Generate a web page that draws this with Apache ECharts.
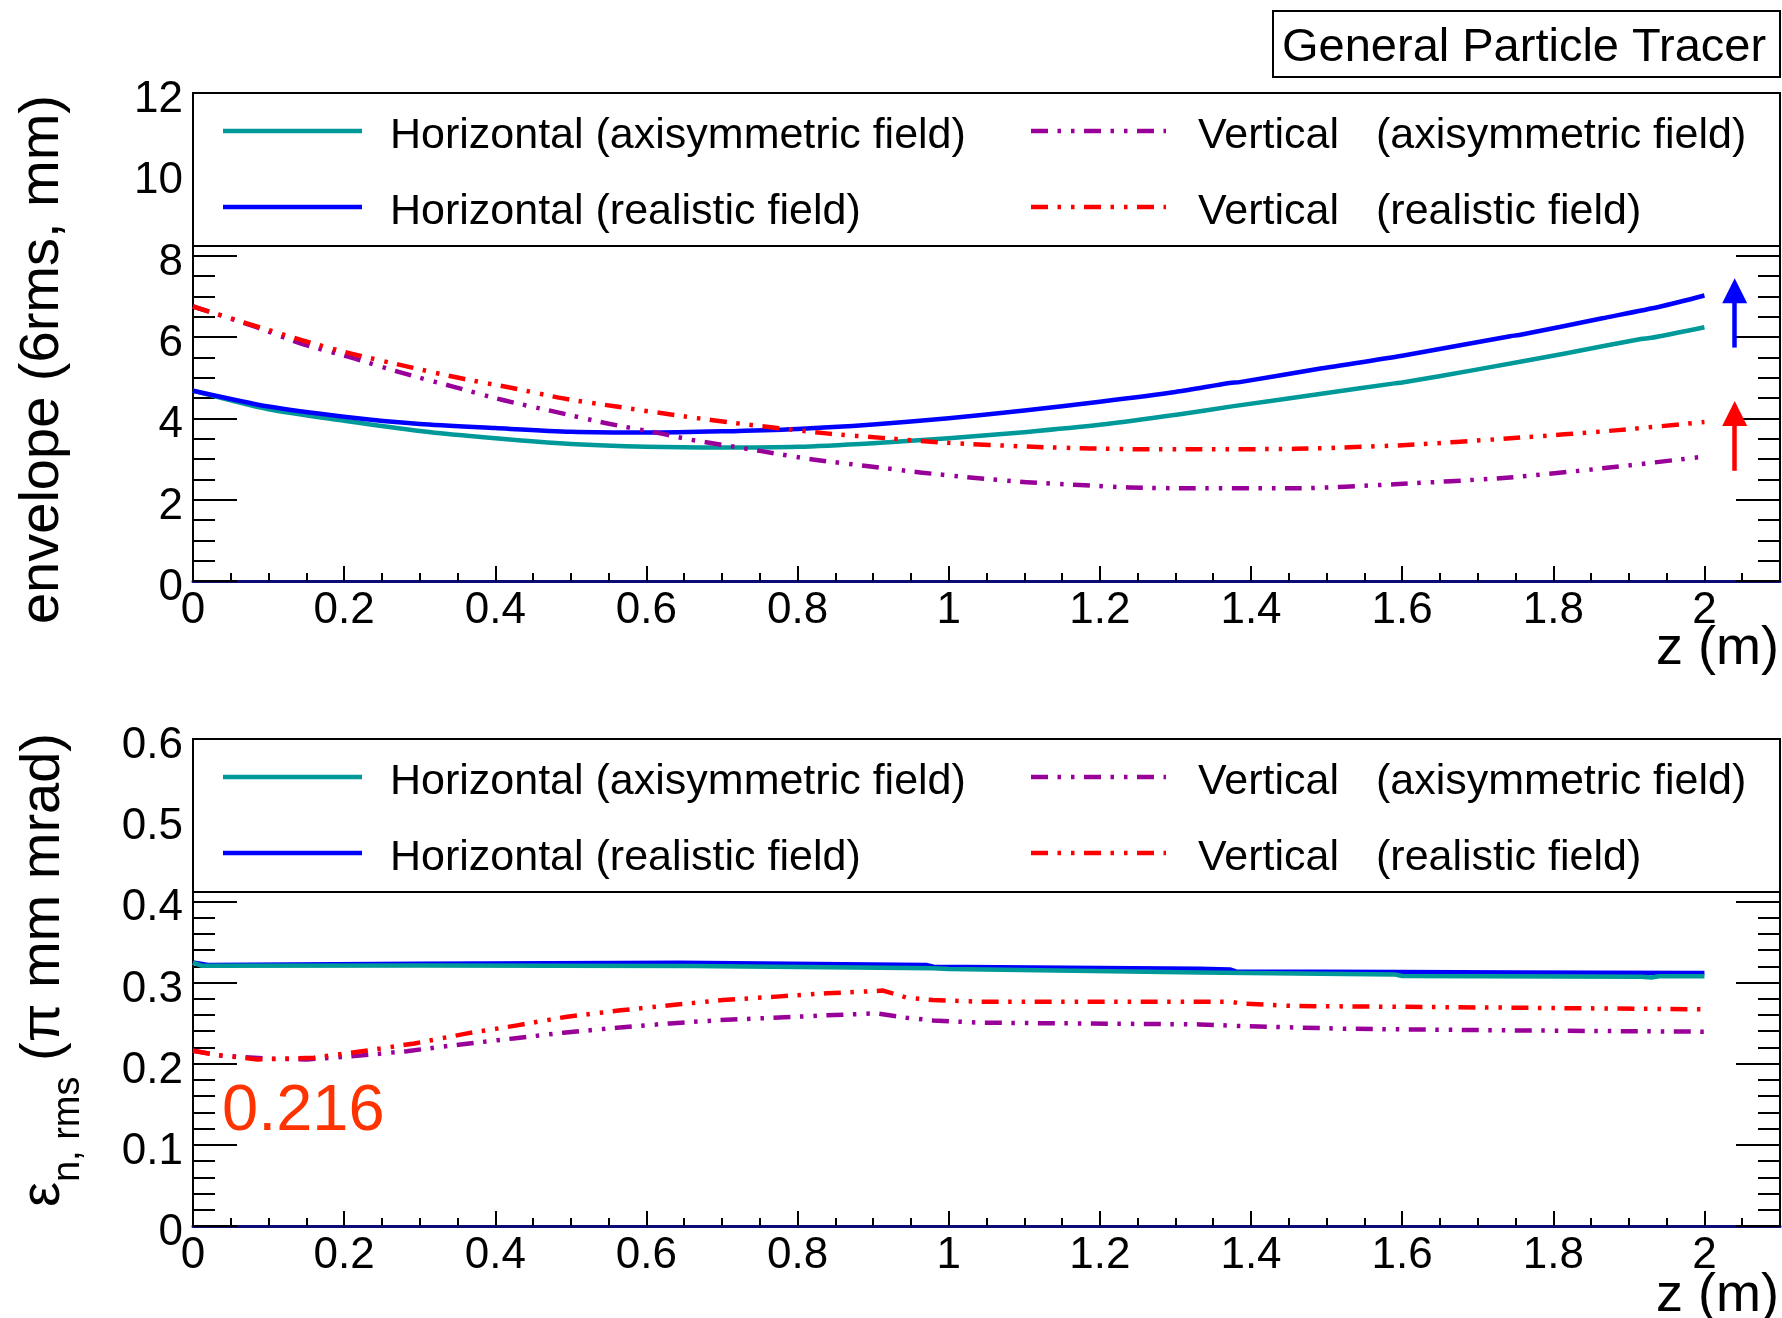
<!DOCTYPE html>
<html>
<head>
<meta charset="utf-8">
<script src="https://cdn.jsdelivr.net/npm/echarts@6/dist/echarts.min.js"></script>
<style>
  html, body { margin: 0; padding: 0; background: #ffffff; }
  #chart { width: 1782px; height: 1318px; }
</style>
</head>
<body>
<div id="chart"></div>
<script>
// ---- Beam envelope (6 rms, mm) along z (m) ----
const envHorizAxi = [
  [0, 4.68], [0.1, 4.22], [0.2, 3.94], [0.3, 3.69], [0.4, 3.51], [0.5, 3.37],
  [0.6, 3.30], [0.7, 3.28], [0.8, 3.30], [0.9, 3.39], [1.0, 3.51], [1.1, 3.66],
  [1.2, 3.84], [1.306, 4.10], [1.377, 4.30], [1.484, 4.58], [1.59, 4.86],
  [1.6, 4.88], [1.702, 5.21], [1.814, 5.59], [1.916, 5.95], [1.93, 5.98], [2.0, 6.24]
];
const envHorizReal = [
  [0, 4.68], [0.1, 4.29], [0.2, 4.04], [0.3, 3.86], [0.4, 3.76], [0.5, 3.67],
  [0.6, 3.65], [0.7, 3.68], [0.8, 3.74], [0.9, 3.85], [1.0, 4.00], [1.1, 4.19],
  [1.2, 4.41], [1.3, 4.65], [1.372, 4.87], [1.385, 4.89], [1.494, 5.23],
  [1.6, 5.54], [1.743, 6.02], [1.755, 6.05], [1.865, 6.46], [1.942, 6.75], [2.0, 7.02]
];
const envVertAxi = [
  [0, 6.75], [0.084, 6.24], [0.146, 5.82], [0.212, 5.48], [0.278, 5.11], [0.344, 4.78],
  [0.41, 4.45], [0.477, 4.17], [0.547, 3.88], [0.618, 3.63], [0.657, 3.48], [0.75, 3.20],
  [0.82, 2.99], [0.891, 2.83], [0.962, 2.67], [1.032, 2.54], [1.103, 2.43], [1.173, 2.36],
  [1.239, 2.30], [1.323, 2.28], [1.458, 2.28], [1.59, 2.38], [1.738, 2.54], [1.865, 2.77], [2.0, 3.06]
];
const envVertReal = [
  [0, 6.75], [0.146, 5.91], [0.212, 5.58], [0.287, 5.26], [0.353, 4.99], [0.424, 4.74],
  [0.49, 4.49], [0.56, 4.29], [0.653, 4.04], [0.728, 3.86], [0.838, 3.63], [0.918, 3.51],
  [0.997, 3.40], [1.111, 3.30], [1.187, 3.26], [1.261, 3.24], [1.328, 3.24], [1.458, 3.25],
  [1.6, 3.34], [1.743, 3.51], [1.886, 3.71], [2.0, 3.91]
];
// growth markers at the exit: [z, from, to]
const arrowHoriz = [2.04, 5.74, 7.14];
const arrowVert = [2.04, 2.71, 4.12];

// ---- Normalised rms emittance (pi mm mrad) along z (m) ----
const initialEmittance = 0.216;
const emitHorizAxi = [
  [0, 0.3246], [0.012, 0.3205], [0.3, 0.3208], [0.66, 0.3202], [0.979, 0.3175],
  [1.0, 0.3165], [1.332, 0.3122], [1.59, 0.3100], [1.6, 0.3080], [1.916, 0.3070],
  [1.93, 0.3062], [1.94, 0.3078], [2.0, 0.3078]
];
const emitHorizReal = [
  [0, 0.3246], [0.02, 0.3215], [0.3, 0.3230], [0.644, 0.3244], [0.97, 0.3215],
  [0.98, 0.3195], [1.332, 0.3168], [1.372, 0.3160], [1.38, 0.3136], [1.6, 0.3128],
  [1.75, 0.3124], [2.0, 0.3117]
];
const emitVertAxi = [
  [0, initialEmittance], [0.036, 0.2101], [0.094, 0.2064], [0.151, 0.2052], [0.213, 0.2093],
  [0.283, 0.2154], [0.354, 0.2237], [0.424, 0.2311], [0.49, 0.2381], [0.561, 0.2443],
  [0.631, 0.2496], [0.697, 0.2537], [0.768, 0.2566], [0.838, 0.2595], [0.904, 0.2620],
  [0.944, 0.2566], [0.979, 0.2533], [1.041, 0.2505], [1.332, 0.2484], [1.387, 0.2463],
  [1.524, 0.2430], [1.743, 0.2410], [2.0, 0.2394]
];
const emitVertReal = [
  [0, initialEmittance], [0.027, 0.2113], [0.085, 0.2052], [0.16, 0.2073], [0.231, 0.2163],
  [0.293, 0.2249], [0.363, 0.2373], [0.429, 0.2472], [0.495, 0.2579], [0.566, 0.2657],
  [0.631, 0.2719], [0.701, 0.2784], [0.772, 0.2826], [0.838, 0.2867], [0.904, 0.2895],
  [0.913, 0.2900], [0.944, 0.2814], [0.979, 0.2784], [1.041, 0.2764], [1.372, 0.2764],
  [1.387, 0.2740], [1.458, 0.2710], [1.743, 0.2690], [2.0, 0.2669]
];

// ---- Text ----
const planeNames = ['Horizontal', 'Horizontal', 'Vertical', 'Vertical'];
const fieldNames = ['(axisymmetric field)', '(realistic field)', '(axisymmetric field)', '(realistic field)'];
const envTitle = 'envelope (6rms, mm)';
const xTitle = 'z (m)';
const programName = 'General Particle Tracer';

// ---- Styling ----
const FONT = "'Liberation Sans', Arial, Helvetica, sans-serif";
const colors = ['#009999', '#0000ff', '#990099', '#ff0000'];
const dashDotDot = [17, 9.5, 3.5, 10, 3.5, 9.5];
const lineTypes = ['solid', 'solid', dashDotDot, dashDotDot];
const LW = 4.5;

const panels = [
  { top: 93, height: 488, yMax: 12, yInterval: 2, yMinor: 4, smooth: 0.25 },
  { top: 739, height: 487, yMax: 0.6, yInterval: 0.1, yMinor: 5, smooth: false }
];
const gridLeft = 193, gridWidth = 1587;

const xAxes = [], yAxes = [], grids = [];
panels.forEach((p, i) => {
  grids.push({ left: gridLeft, top: p.top, width: gridWidth, height: p.height,
    show: true, borderColor: '#000', borderWidth: 2, backgroundColor: 'transparent',
    containLabel: false, outerBoundsMode: 'none' });
  xAxes.push({
    gridIndex: i, type: 'value', position: 'bottom', min: 0, max: 2.1, interval: 0.2,
    axisLine: { show: true, onZero: false, lineStyle: { color: '#0c0c78', width: 3 } },
    axisTick: { show: true, inside: true, length: 15, lineStyle: { color: '#000', width: 2 } },
    minorTick: { show: false },
    axisLabel: { show: true, fontSize: 44, fontFamily: FONT, color: '#000', margin: 8,
      showMaxLabel: false, showMinLabel: true },
    splitLine: { show: false }
  });
  xAxes.push({
    gridIndex: i, type: 'value', position: 'bottom', min: 0, max: 2.1, interval: 0.05,
    axisLine: { show: false },
    axisTick: { show: true, inside: true, length: 8, lineStyle: { color: '#000', width: 2 } },
    axisLabel: { show: false }, splitLine: { show: false }
  });
  const yCommon = {
    gridIndex: i, type: 'value', min: 0, max: p.yMax, interval: p.yInterval,
    axisLine: { show: true, onZero: false, lineStyle: { color: '#000', width: 2 } },
    axisTick: { show: true, inside: true, length: 44, lineStyle: { color: '#000', width: 2 } },
    minorTick: { show: true, splitNumber: p.yMinor, length: 22, lineStyle: { color: '#000', width: 2 } },
    splitLine: { show: false }, minorSplitLine: { show: false }
  };
  yAxes.push(Object.assign({}, yCommon, { position: 'left',
    axisLabel: { show: true, fontSize: 44, fontFamily: FONT, color: '#000', margin: 10,
      verticalAlign: 'top', lineHeight: 14, showMinLabel: true, showMaxLabel: true } }));
  yAxes.push(Object.assign({}, yCommon, { position: 'right', axisLabel: { show: false } }));
});

function lineSeries(name, data, k, panel, extra) {
  return Object.assign({
    name: name, type: 'line', data: data,
    xAxisIndex: panel * 2, yAxisIndex: panel * 2,
    showSymbol: false, symbol: 'none', smooth: panels[panel].smooth, silent: true, animation: false,
    lineStyle: { color: colors[k], width: LW, type: lineTypes[k], cap: 'butt', join: 'round' },
    itemStyle: { color: colors[k] },
    emphasis: { disabled: true }, z: 2 + k
  }, extra || {});
}

function arrowMark(a, color) {
  return {
    markLine: {
      silent: true, animation: false,
      symbol: ['none', 'triangle'], symbolSize: 25,
      label: { show: false },
      lineStyle: { color: color, width: LW, type: 'solid' },
      itemStyle: { color: color },
      data: [[{ coord: [a[0], a[1]] }, { coord: [a[0], a[2]] }]]
    }
  };
}

const names = planeNames.map((p, k) => p + ' ' + fieldNames[k]);
const series = [
  lineSeries(names[0], envHorizAxi, 0, 0),
  lineSeries(names[1], envHorizReal, 1, 0, arrowMark(arrowHoriz, colors[1])),
  lineSeries(names[3], envVertReal, 3, 0, arrowMark(arrowVert, colors[3])),
  lineSeries(names[2], envVertAxi, 2, 0),
  lineSeries(names[0], emitHorizAxi, 0, 1),
  lineSeries(names[1], emitHorizReal, 1, 1),
  lineSeries(names[3], emitVertReal, 3, 1),
  lineSeries(names[2], emitVertAxi, 2, 1)
];
// keep axisymmetric drawn above realistic where the emittance curves overlap
series[4].z = 4; series[5].z = 3;

// legend box spanning the top of each panel
function legendBox(top) {
  const rows = [top + 38, top + 114];
  const els = [{
    type: 'rect', z: 100, silent: true,
    shape: { x: gridLeft, y: top, width: gridWidth, height: 153 },
    style: { fill: '#ffffff', stroke: '#000000', lineWidth: 2 }
  }];
  [0, 1].forEach(r => {
    const y = rows[r];
    const ty = y + 5;
    // solid (horizontal) column
    els.push({ type: 'line', z: 101, silent: true,
      shape: { x1: 223, y1: y, x2: 362, y2: y },
      style: { stroke: colors[r], lineWidth: LW, lineCap: 'butt' } });
    els.push({ type: 'text', z: 101, silent: true, x: 390, y: ty,
      style: { text: planeNames[r] + ' ' + fieldNames[r], fontSize: 43, fontFamily: FONT,
        fill: '#000', align: 'left', verticalAlign: 'middle' } });
    // dash-dot-dot (vertical) column
    els.push({ type: 'line', z: 101, silent: true,
      shape: { x1: 1031, y1: y, x2: 1166, y2: y },
      style: { stroke: colors[r + 2], lineWidth: LW, lineDash: dashDotDot, lineCap: 'butt' } });
    els.push({ type: 'text', z: 101, silent: true, x: 1198, y: ty,
      style: { text: planeNames[r + 2], fontSize: 43, fontFamily: FONT,
        fill: '#000', align: 'left', verticalAlign: 'middle' } });
    els.push({ type: 'text', z: 101, silent: true, x: 1376, y: ty,
      style: { text: fieldNames[r + 2], fontSize: 43, fontFamily: FONT,
        fill: '#000', align: 'left', verticalAlign: 'middle' } });
  });
  return els;
}

const graphics = [].concat(
  legendBox(panels[0].top),
  legendBox(panels[1].top),
  [
    // program tag
    { type: 'rect', z: 100, silent: true,
      shape: { x: 1273, y: 11, width: 507, height: 66 },
      style: { fill: '#ffffff', stroke: '#000000', lineWidth: 2 } },
    { type: 'text', z: 101, silent: true, x: 1282, y: 48,
      style: { text: programName, fontSize: 47, fontFamily: FONT, fill: '#000',
        align: 'left', verticalAlign: 'middle' } },
    // y titles
    { type: 'text', z: 101, silent: true, x: 43, y: 95, rotation: Math.PI / 2,
      style: { text: envTitle, fontSize: 56, fontFamily: FONT, fill: '#000',
        align: 'right', verticalAlign: 'middle' } },
    { type: 'text', z: 101, silent: true, x: 52, y: 733, rotation: Math.PI / 2,
      style: {
        text: '{e|\u03b5}{s|n, rms}{g| }{t|(\u03c0 mm mrad)}',
        align: 'right', verticalAlign: 'middle',
        rich: {
          e: { fontSize: 56, fontFamily: FONT, fill: '#000', lineHeight: 72, verticalAlign: 'top' },
          t: { fontSize: 56, fontFamily: FONT, fill: '#000', lineHeight: 72, verticalAlign: 'top' },
          g: { fontSize: 56, fontFamily: FONT, fill: '#000', lineHeight: 72, verticalAlign: 'top' },
          s: { fontSize: 38, fontFamily: FONT, fill: '#000', lineHeight: 38, verticalAlign: 'bottom' }
        }
      } },
    // x titles
    { type: 'text', z: 101, silent: true, x: 1779, y: 649,
      style: { text: xTitle, fontSize: 54, fontFamily: FONT, fill: '#000',
        align: 'right', verticalAlign: 'middle' } },
    { type: 'text', z: 101, silent: true, x: 1779, y: 1296,
      style: { text: xTitle, fontSize: 54, fontFamily: FONT, fill: '#000',
        align: 'right', verticalAlign: 'middle' } },
    // initial vertical emittance
    { type: 'text', z: 101, silent: true, x: 222, y: 1112,
      style: { text: initialEmittance.toFixed(3), fontSize: 65, fontFamily: FONT, fill: '#ff3300',
        align: 'left', verticalAlign: 'middle' } }
  ]
);

const chart = echarts.init(document.getElementById('chart'), null, { renderer: 'canvas' });
chart.setOption({
  animation: false,
  backgroundColor: '#ffffff',
  textStyle: { fontFamily: FONT },
  grid: grids,
  xAxis: xAxes,
  yAxis: yAxes,
  series: series,
  graphic: graphics,
  tooltip: { show: false },
  legend: { show: false }
});
</script>
</body>
</html>
